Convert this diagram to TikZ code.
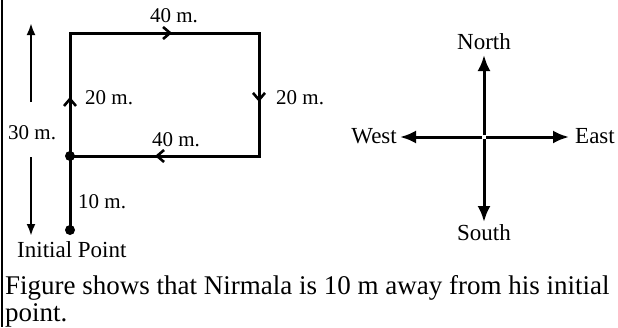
\documentclass[tikz,border=0pt]{standalone}
\usepackage{fontspec}
\setmainfont{Liberation Serif}
\usetikzlibrary{arrows.meta,decorations.markings}
\begin{document}
\begin{tikzpicture}[x=1pt,y=-1pt,
  pathline/.style={line width=3pt},
  midarrow/.style={postaction={decorate},decoration={markings,mark=at position #1 with {\arrow{Straight Barb[length=7pt,width=12pt,line width=2.6pt]}}}},
  lbl/.style={font=\fontsize{21}{21}\selectfont,inner sep=0pt},
  cmp/.style={font=\fontsize{23}{23}\selectfont,inner sep=0pt},
  body/.style={font=\fontsize{27}{27}\selectfont,inner sep=0pt,anchor=base west},
  cmparrow/.style={line width=3pt,-{Latex[length=16pt,width=13pt]}},
  measarrow/.style={line width=2.8pt,-{Latex[length=12pt,width=9pt]}},
  dot/.style={circle,fill=black,inner sep=0pt,minimum size=10pt}]
\useasboundingbox (0,0) rectangle (618,327);
\draw[line width=2.2pt] (2,0) -- (2,327);
% path
\node[dot] (start) at (70,230) {};
\node[dot] (turn) at (70,156) {};
\coordinate (tl) at (70,33);
\coordinate (tr) at (259,33);
\coordinate (br) at (259,156);
\draw[pathline] (start.center) -- (turn.center);
\draw[pathline,midarrow=0.48] (turn.center) -- (tl);
\draw[pathline,midarrow=0.54] (tl) -- (tr);
\draw[pathline,midarrow=0.56] (tr) -- (br);
\draw[pathline,midarrow=0.55] (br) -- (turn.center);
\draw[pathline,line cap=rect] (turn.center) -- (tl) -- (tr) -- (br) -- (turn.center);
% labels
\node[lbl,anchor=base] (l40t) at (174,22) {40 m.};
\node[lbl,anchor=base west] (l20l) at (85,104) {20 m.};
\node[lbl,anchor=base west] (l20r) at (276,104) {20 m.};
\node[lbl,anchor=base] (l40b) at (176,146) {40 m.};
\node[lbl,anchor=base west] (l10) at (78,208) {10 m.};
\node[lbl,anchor=base west] (l30) at (8,139) {30 m.};
\node[cmp,anchor=base west] (init) at (17,257) {Initial Point};
% measurement arrows
\coordinate (mu0) at (31,102);
\coordinate (mu1) at (31,23);
\coordinate (md0) at (31,157);
\coordinate (md1) at (31,236);
\draw[measarrow] (mu0) -- (mu1);
\draw[measarrow] (md0) -- (md1);
% compass
\coordinate (c) at (484,137);
\node[cmp,anchor=base] (north) at (484,49) {North};
\node[cmp,anchor=base] (south) at (484,240) {South};
\node[cmp,anchor=base east] (west) at (397,143) {West};
\node[cmp,anchor=base west] (east) at (575,143) {East};
\coordinate (cn) at (484,135);
\coordinate (cs) at (484,139);
\coordinate (cw) at (482,137);
\coordinate (ce) at (486,137);
\draw[cmparrow] (cn) -- (484,55);
\draw[cmparrow] (cs) -- (484,222);
\draw[cmparrow] (cw) -- (400,137);
\draw[cmparrow] (ce) -- (569,137);
% body text
\node[body] (t1) at (5,294) {Figure shows that Nirmala is 10 m away from his initial};
\node[body] (t2) at (5,321) {point.};
\end{tikzpicture}
\end{document}
